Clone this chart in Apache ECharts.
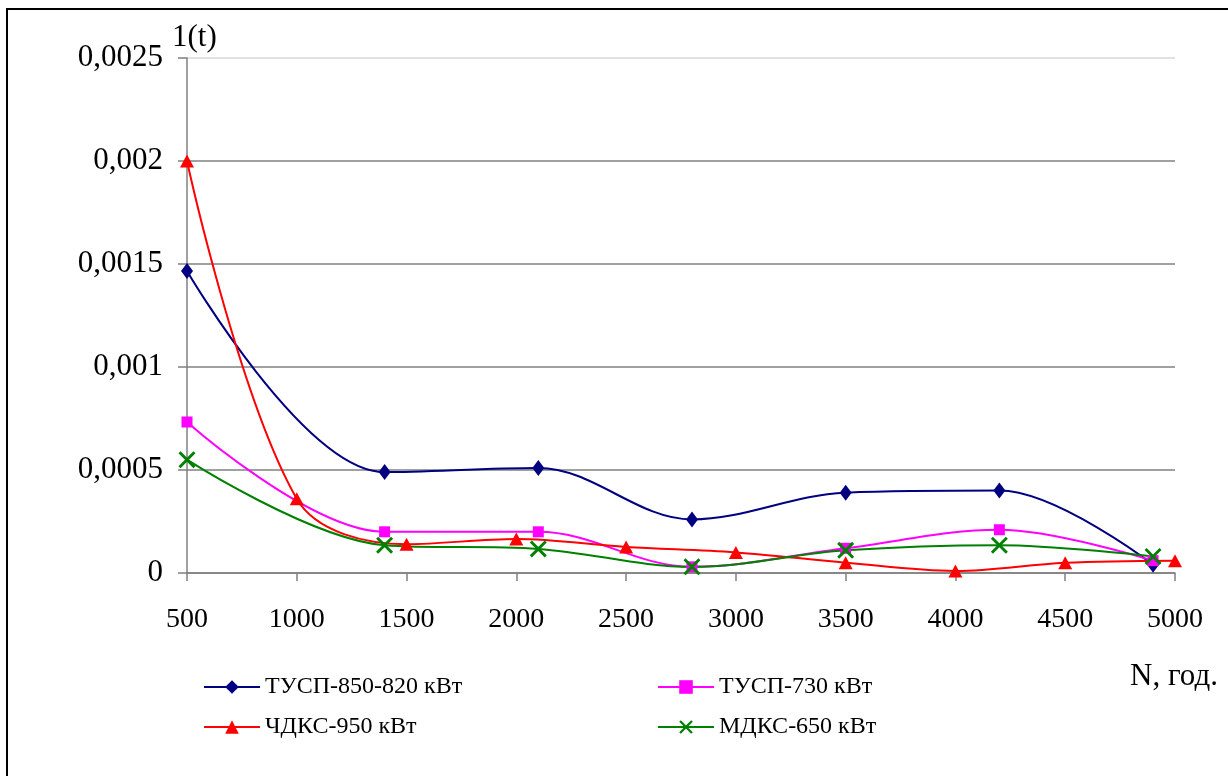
<!DOCTYPE html>
<html>
<head>
<meta charset="utf-8">
<script src="https://cdn.jsdelivr.net/npm/echarts@6/dist/echarts.min.js"></script>
<style>
html,body{margin:0;padding:0;background:#fff;}
#chart{width:1228px;height:776px;}
</style>
</head>
<body>
<div id="chart"></div>
<script>
// Data
var xA = [500, 1400, 2100, 2800, 3500, 4200, 4900];
var xB = [500, 1000, 1500, 2000, 2500, 3000, 3500, 4000, 4500, 5000];
var tusp850 = [0.001466, 0.00049, 0.00051, 0.00026, 0.00039, 0.0004, 0.00004];
var tusp730 = [0.000733, 0.0002, 0.0002, 0.00003, 0.00012, 0.00021, 0.00006];
var chdks950 = [0.002, 0.00036, 0.00014, 0.000165, 0.000126, 0.0001, 0.00005, 0.00001, 0.00005, 0.00006];
var mdks650 = [0.00055, 0.000135, 0.000117, 0.00003, 0.00011, 0.000135, 0.00008];
var seriesNames = ['ТУСП-850-820 кВт', 'ТУСП-730 кВт', 'ЧДКС-950 кВт', 'МДКС-650 кВт'];
var yAxisName = '1(t)';
var xAxisName = 'N, год.';

function pairs(xs, ys) { return xs.map(function (x, i) { return [x, ys[i]]; }); }

var FONT = '"Liberation Serif", "Times New Roman", serif';
var chart = echarts.init(document.getElementById('chart'));
var xSym = 'path://M0,1.2 L1.2,0 L10,8.8 L8.8,10 Z M8.8,0 L10,1.2 L1.2,10 L0,8.8 Z';

function mk(name, data, color, symbol, size) {
  return {
    name: name, type: 'line', data: data, smooth: 0.35,
    symbol: symbol, symbolSize: size, showSymbol: true,
    lineStyle: { color: color, width: 2 },
    itemStyle: { color: color },
    emphasis: { disabled: true },
    animation: false
  };
}

chart.setOption({
  animation: false,
  backgroundColor: '#fff',
  grid: { left: 187, right: 53, top: 58, bottom: 203 },
  legend: [{
    data: [seriesNames[0], seriesNames[2]],
    orient: 'vertical', left: 198, top: 670,
    itemWidth: 56, itemHeight: 17, itemGap: 16,
    textStyle: { fontFamily: FONT, fontSize: 24, color: '#000' },
    selectedMode: false
  }, {
    data: [seriesNames[1], seriesNames[3]],
    orient: 'vertical', left: 652, top: 670,
    itemWidth: 56, itemHeight: 17, itemGap: 16,
    textStyle: { fontFamily: FONT, fontSize: 24, color: '#000' },
    selectedMode: false
  }],
  xAxis: {
    type: 'value', min: 500, max: 5000, interval: 500,
    axisLine: { show: true, lineStyle: { color: '#808080', width: 1.5 } },
    axisTick: { show: true, length: 8, lineStyle: { color: '#808080', width: 1.5 } },
    axisLabel: { fontFamily: FONT, fontSize: 28, color: '#000', margin: 33,
      formatter: function (v) { return String(v); } },
    splitLine: { show: false }
  },
  yAxis: {
    type: 'value', min: 0, max: 0.0025, interval: 0.0005,
    axisLine: { show: true, lineStyle: { color: '#808080', width: 1.5 } },
    axisTick: { show: true, length: 9, lineStyle: { color: '#808080', width: 1.5 } },
    axisLabel: {
      fontFamily: FONT, fontSize: 31, color: '#000', margin: 24,
      formatter: function (v) { return String(+v.toFixed(4)).replace('.', ','); }
    },
    splitLine: { show: true, lineStyle: { color: ['#808080', '#808080', '#808080', '#808080', '#808080', '#d8d8d8'], width: 1.5 } }
  },
  graphic: [
    { type: 'rect', silent: true, z: -1, shape: { x: 7, y: 9, width: 1400, height: 1000 }, style: { fill: 'none', stroke: '#000', lineWidth: 2 } },
    { type: 'text', silent: true, x: 172, y: 22, style: { text: yAxisName, font: '31px ' + FONT, fill: '#000' } },
    { type: 'text', silent: true, x: 1130, y: 661, style: { text: xAxisName, font: '31px ' + FONT, fill: '#000' } }
  ],
  series: [
    mk(seriesNames[0], pairs(xA, tusp850), '#000080', 'diamond', [12, 16]),
    mk(seriesNames[1], pairs(xA, tusp730), '#FF00FF', 'rect', 11),
    mk(seriesNames[2], pairs(xB, chdks950), '#FF0000', 'triangle', [14, 13]),
    mk(seriesNames[3], pairs(xA, mdks650), '#008000', xSym, 17)
  ]
});
</script>
</body>
</html>
